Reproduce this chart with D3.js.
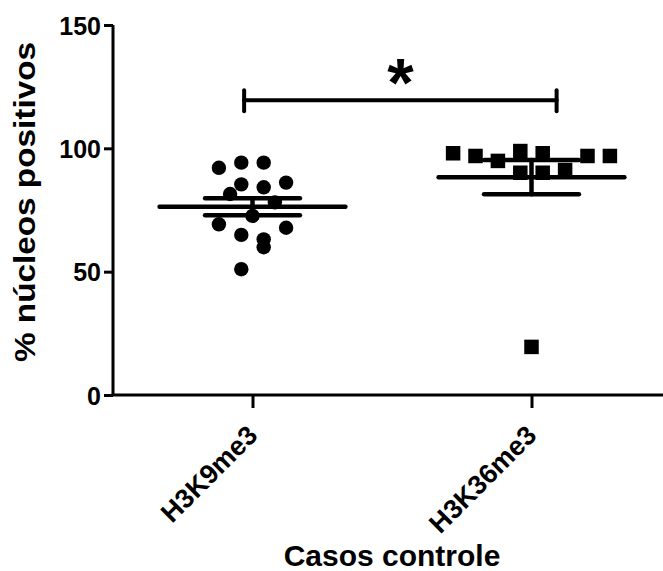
<!DOCTYPE html>
<html>
<head>
<meta charset="utf-8">
<script src="https://cdn.jsdelivr.net/npm/d3@7"></script>
<style>
  html, body { margin: 0; padding: 0; background: #fff; }
  svg { display: block; }
  text { font-family: "Liberation Sans", Arial, sans-serif; font-weight: bold; fill: #000; }
</style>
</head>
<body>
<svg id="chart" width="663" height="571"></svg>
<script>
// Group labels and their positions on the x axis
const categories = ["H3K9me3", "H3K36me3"];
const categoryPos = [1, 2];

// % positive nuclei per case, with the column slot each point sits in
const k9Values = [94.2, 94.2, 92.1, 86.1, 85.4, 84.2, 81.5, 78.1, 72.6, 69.2, 67.8, 64.9, 63.1, 59.9, 51.0];
const k9Slots  = [-1, 1, -3, 3, -1, 1, -2, 2, 0, -3, 3, -1, 1, 1, -1];

const k36Values = [98.0, 96.9, 94.9, 98.9, 98.0, 91.2, 96.9, 96.9, 90.1, 90.1, 19.5];
const k36Slots  = [-7, -5, -3, -1, 1, 3, 5, 7, -1, 1, 0];

// Axis ticks
const yTicks = [0, 50, 100, 150];

// Significance bracket (x span in axis units, height in %)
const bracketX = [0.97, 2.09];
const bracketY = 119.5;
const bracketLabel = "*";

const svg = d3.select("#chart");

const x = d3.scaleLinear().domain([0.5, 2.5]).range([113, 671]);
const y = d3.scaleLinear().domain([0, 150]).range([395, 25]);
const slotWidth = 11.2;

// Axes
const yAxis = d3.axisLeft(y).tickValues(yTicks).tickSize(9).tickPadding(3);
const gy = svg.append("g").attr("transform", `translate(${x(0.5)},0)`).call(yAxis);
gy.select(".domain").attr("stroke", "#000").attr("stroke-width", 3).attr("d", `M0,${y(150)}V${y(0)}`);
gy.selectAll(".tick line").attr("stroke", "#000").attr("stroke-width", 3);
gy.selectAll(".tick text").style("font-size", "25px").attr("dy", "0.36em");

const xAxis = d3.axisBottom(x).tickValues(categoryPos).tickSize(13).tickFormat((d, i) => categories[i]);
const gx = svg.append("g").attr("transform", `translate(0,${y(0)})`).call(xAxis);
gx.select(".domain").attr("stroke", "#000").attr("stroke-width", 3).attr("d", `M${x(0.5) - 1.5},0H663`);
gx.selectAll(".tick line").attr("stroke", "#000").attr("stroke-width", 3);
gx.selectAll(".tick text")
  .style("font-size", "27px")
  .attr("text-anchor", "end")
  .attr("dy", null)
  .attr("y", 0)
  .attr("transform", "translate(6,42) rotate(-45)");

// Axis titles
svg.append("text")
  .attr("transform", "translate(35,202) rotate(-90)")
  .attr("text-anchor", "middle")
  .attr("textLength", 320)
  .attr("lengthAdjust", "spacingAndGlyphs")
  .style("font-size", "29px")
  .text("% núcleos positivos");

svg.append("text")
  .attr("x", 392)
  .attr("y", 566)
  .attr("text-anchor", "middle")
  .style("font-size", "30px")
  .text("Casos controle");

// Mean ± SEM summary lines for a group
function summary(values, cx) {
  const m = d3.mean(values);
  const sem = d3.deviation(values) / Math.sqrt(values.length);
  const g = svg.append("g").attr("stroke", "#000").attr("stroke-linecap", "round");
  g.append("line").attr("x1", x(cx - 0.333)).attr("x2", x(cx + 0.333))
    .attr("y1", y(m)).attr("y2", y(m)).attr("stroke-width", 4.5);
  g.append("line").attr("x1", x(cx - 0.17)).attr("x2", x(cx + 0.17))
    .attr("y1", y(m + sem)).attr("y2", y(m + sem)).attr("stroke-width", 4.5);
  g.append("line").attr("x1", x(cx - 0.17)).attr("x2", x(cx + 0.17))
    .attr("y1", y(m - sem)).attr("y2", y(m - sem)).attr("stroke-width", 4.5);
  g.append("line").attr("x1", x(cx)).attr("x2", x(cx))
    .attr("y1", y(m + sem)).attr("y2", y(m - sem)).attr("stroke-width", 4.5);
}

// H3K9me3: circles
svg.append("g").selectAll("circle")
  .data(k9Values)
  .join("circle")
  .attr("cx", (d, i) => x(categoryPos[0]) + k9Slots[i] * slotWidth)
  .attr("cy", d => y(d))
  .attr("r", 7.2)
  .attr("fill", "#000");

// H3K36me3: squares
const sq = 14.5;
svg.append("g").selectAll("rect")
  .data(k36Values)
  .join("rect")
  .attr("x", (d, i) => x(categoryPos[1]) + k36Slots[i] * slotWidth - sq / 2)
  .attr("y", d => y(d) - sq / 2)
  .attr("width", sq)
  .attr("height", sq)
  .attr("fill", "#000");

summary(k9Values, categoryPos[0]);
summary(k36Values, categoryPos[1]);

// Significance bracket
const br = svg.append("g").attr("stroke", "#000").attr("stroke-width", 4).attr("stroke-linecap", "round");
br.append("line").attr("x1", x(bracketX[0])).attr("x2", x(bracketX[1])).attr("y1", y(bracketY)).attr("y2", y(bracketY));
br.append("line").attr("x1", x(bracketX[0])).attr("x2", x(bracketX[0])).attr("y1", y(bracketY) - 10).attr("y2", y(bracketY) + 11);
br.append("line").attr("x1", x(bracketX[1])).attr("x2", x(bracketX[1])).attr("y1", y(bracketY) - 10).attr("y2", y(bracketY) + 11);

svg.append("text")
  .attr("x", (x(bracketX[0]) + x(bracketX[1])) / 2)
  .attr("y", y(bracketY) + 6)
  .attr("text-anchor", "middle")
  .style("font-size", "68px")
  .text(bracketLabel);
</script>
</body>
</html>
